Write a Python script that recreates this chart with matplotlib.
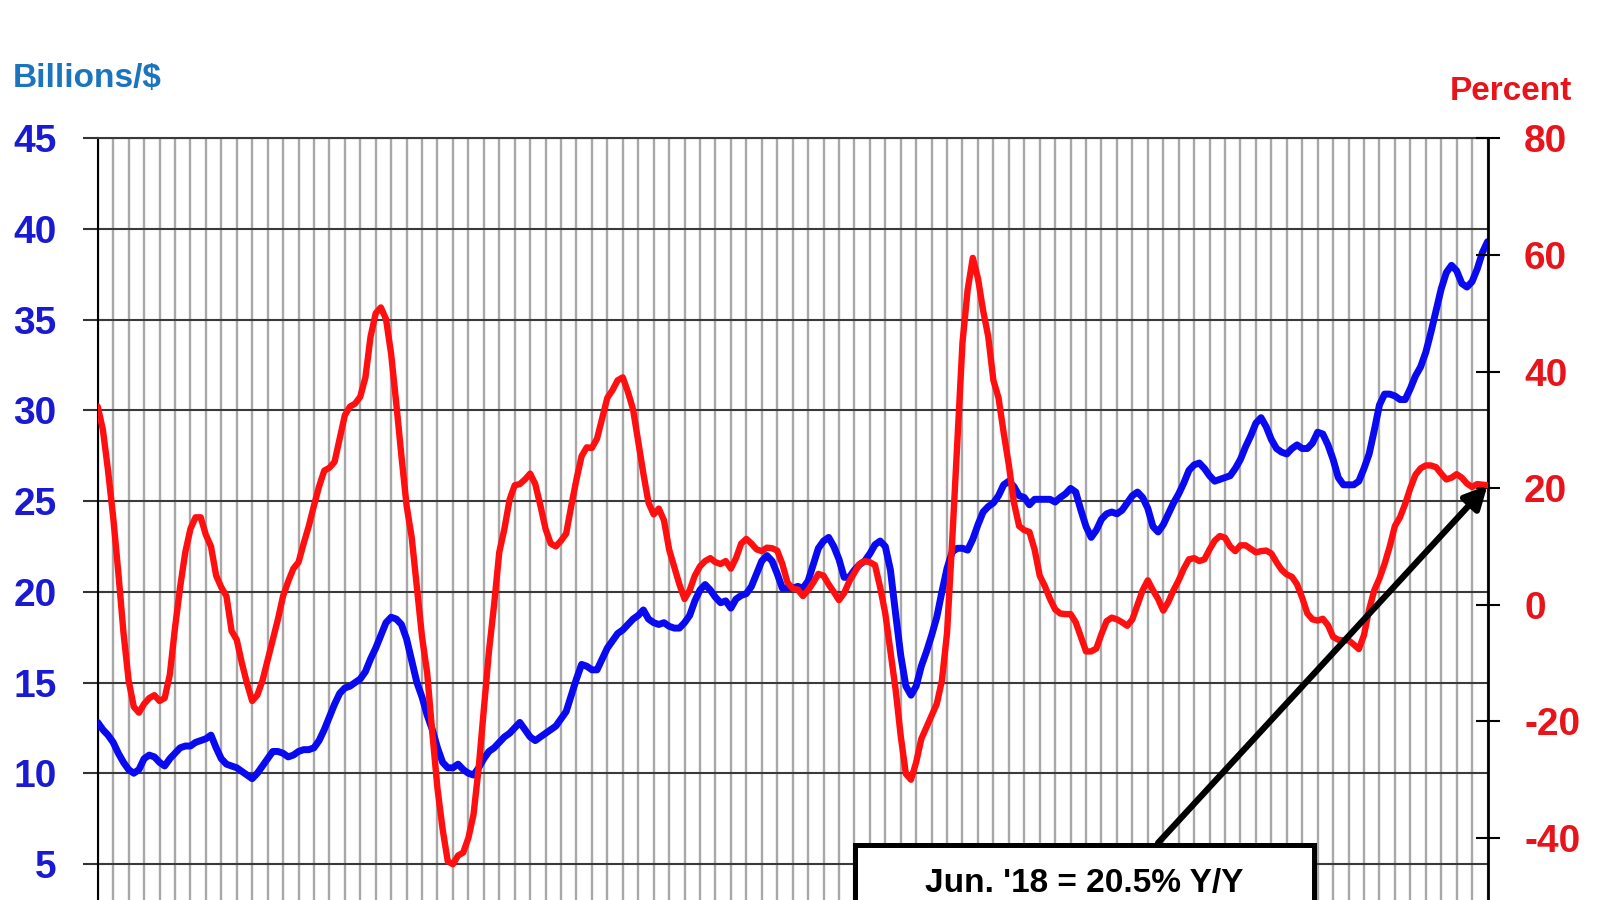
import numpy as np
import matplotlib
matplotlib.use("Agg")
import matplotlib.pyplot as plt
from matplotlib.patches import Rectangle

# ---------------- data (monthly, Dec 1995 .. Jun 2018) ----------------
start_month = "1995-12"
end_month = "2018-06"

billions = [
    12.8,
    12.4, 12.1, 11.7, 11.1, 10.6, 10.2, 10.0, 10.2, 10.8, 11.0, 10.9, 10.6,
    10.4, 10.8, 11.1, 11.4, 11.5, 11.5, 11.7, 11.8, 11.9, 12.1, 11.4, 10.8,
    10.5, 10.4, 10.3, 10.1, 9.9, 9.7, 10.0, 10.4, 10.8, 11.2, 11.2, 11.1,
    10.9, 11.0, 11.2, 11.3, 11.3, 11.4, 11.8, 12.4, 13.1, 13.8, 14.4, 14.7,
    14.8, 15.0, 15.2, 15.6, 16.3, 16.9, 17.6, 18.3, 18.6, 18.5, 18.2, 17.4,
    16.2, 15.0, 14.2, 13.2, 12.4, 11.4, 10.6, 10.3, 10.3, 10.5, 10.2, 10.0,
    9.9, 10.3, 10.8, 11.2, 11.4, 11.7, 12.0, 12.2, 12.5, 12.8, 12.4, 12.0,
    11.8, 12.0, 12.2, 12.4, 12.6, 13.0, 13.4, 14.3, 15.2, 16.0, 15.9, 15.7,
    15.7, 16.3, 16.9, 17.3, 17.7, 17.9, 18.2, 18.5, 18.7, 19.0, 18.5, 18.3,
    18.2, 18.3, 18.1, 18.0, 18.0, 18.3, 18.7, 19.5, 20.1, 20.4, 20.1, 19.7,
    19.4, 19.5, 19.1, 19.6, 19.8, 19.9, 20.3, 21.0, 21.7, 22.0, 21.7, 21.0,
    20.2, 20.2, 20.2, 20.3, 20.2, 20.6, 21.5, 22.4, 22.8, 23.0, 22.5, 21.8,
    20.8, 20.8, 21.2, 21.5, 21.7, 22.1, 22.6, 22.8, 22.5, 21.2, 18.8, 16.5,
    14.8, 14.3, 14.8, 15.9, 16.7, 17.6, 18.6, 20.0, 21.3, 22.2, 22.4, 22.4,
    22.3, 22.9, 23.7, 24.4, 24.7, 24.9, 25.3, 25.9, 26.1, 25.8, 25.3, 25.2,
    24.8, 25.1, 25.1, 25.1, 25.1, 24.95, 25.2, 25.4, 25.7, 25.5, 24.5, 23.6,
    23.0, 23.4, 24.0, 24.3, 24.4, 24.3, 24.5, 24.9, 25.3, 25.5, 25.2, 24.6,
    23.6, 23.3, 23.7, 24.3, 24.9, 25.4, 26.0, 26.7, 27.0, 27.1, 26.8, 26.4,
    26.1, 26.2, 26.3, 26.4, 26.8, 27.3, 28.0, 28.6, 29.3, 29.6, 29.1, 28.4,
    27.9, 27.7, 27.6, 27.9, 28.1, 27.9, 27.9, 28.2, 28.8, 28.7, 28.1, 27.3,
    26.3, 25.9, 25.9, 25.9, 26.1, 26.8, 27.6, 28.9, 30.3, 30.9, 30.9, 30.8,
    30.6, 30.6, 31.2, 31.9, 32.4, 33.2, 34.3, 35.5, 36.7, 37.6, 38.0, 37.7,
    37.0, 36.8, 37.1, 37.8, 38.7, 39.3,
]

percent_yy = [
    34.0,
    30.0, 23.0, 15.0, 5.5, -4.8, -13.0, -17.5, -18.5, -17.0, -16.0, -15.5, -16.5,
    -16.0, -12.0, -4.0, 3.0, 9.0, 13.0, 15.0, 15.0, 12.0, 10.0, 5.0, 3.0,
    1.5, -4.5, -6.0, -10.0, -13.5, -16.5, -15.5, -13.0, -9.5, -6.0, -2.5, 1.5,
    4.0, 6.2, 7.3, 10.5, 13.5, 17.0, 20.3, 23.0, 23.5, 24.5, 28.5, 32.5,
    34.0, 34.5, 35.7, 39.0, 46.0, 50.0, 51.0, 49.0, 43.0, 34.5, 25.5, 17.0,
    11.5, 3.0, -5.5, -11.7, -22.0, -31.5, -38.5, -44.0, -44.5, -43.0, -42.5, -40.0,
    -36.0, -28.0, -18.0, -8.0, 0.0, 9.0, 13.0, 18.0, 20.5, 20.7, 21.5, 22.5,
    20.7, 17.0, 13.0, 10.5, 10.0, 11.0, 12.2, 17.0, 21.5, 25.5, 27.0, 26.9,
    28.5, 32.0, 35.5, 36.8, 38.5, 39.0, 36.5, 33.5, 28.0, 22.5, 17.5, 15.5,
    16.5, 14.5, 9.5, 6.5, 3.5, 1.0, 2.5, 5.0, 6.6, 7.5, 8.0, 7.3,
    7.0, 7.5, 6.2, 8.0, 10.5, 11.3, 10.5, 9.5, 9.2, 9.8, 9.7, 9.3,
    7.0, 3.8, 2.8, 2.6, 1.5, 2.5, 3.8, 5.3, 5.0, 3.5, 2.2, 0.8,
    2.0, 4.0, 5.5, 7.0, 7.5, 7.3, 6.8, 3.0, -1.5, -8.0, -14.5, -22.5,
    -29.0, -30.0, -27.0, -23.0, -21.0, -19.0, -17.0, -13.0, -4.8, 11.0, 28.0, 45.0,
    54.0, 59.5, 56.0, 50.5, 46.0, 38.5, 35.5, 29.5, 24.0, 17.5, 13.5, 12.8,
    12.5, 9.5, 5.0, 3.2, 1.0, -0.8, -1.5, -1.6, -1.6, -3.0, -5.5, -8.0,
    -8.0, -7.5, -5.0, -2.8, -2.2, -2.5, -3.0, -3.6, -2.5, 0.0, 2.5, 4.2,
    2.5, 1.0, -1.0, 0.5, 2.5, 4.2, 6.2, 7.8, 8.0, 7.5, 7.8, 9.5,
    11.0, 11.8, 11.5, 10.0, 9.2, 10.2, 10.2, 9.6, 9.0, 9.2, 9.3, 8.8,
    7.3, 6.0, 5.2, 4.8, 3.5, 1.2, -1.5, -2.5, -2.7, -2.4, -3.5, -5.5,
    -6.0, -6.1, -6.1, -6.8, -7.6, -5.2, -0.8, 2.5, 4.5, 7.0, 10.0, 13.5,
    15.0, 17.3, 20.0, 22.3, 23.4, 23.9, 23.9, 23.6, 22.5, 21.5, 21.8, 22.4,
    21.8, 20.8, 20.2, 20.7, 20.6, 20.5,
]

# ticks visible inside the picture
left_ticks = [5, 10, 15, 20, 25, 30, 35, 40, 45]
right_ticks = [-40, -20, 0, 20, 40, 60, 80]
left_axis_title = "Billions/$"
right_axis_title = "Percent"
callout_text = "Jun. '18 = 20.5% Y/Y"
callout_value = 20.5

# ---------------- styling ----------------
BLUE_LINE = "#0a0af0"
RED_LINE = "#ff0f0f"
BLUE_TXT = "#1a1ad2"
STEEL_TXT = "#1b74bd"
RED_TXT = "#e8141b"

plt.rcParams["font.family"] = ["Liberation Sans", "DejaVu Sans"]
plt.rcParams["font.weight"] = "bold"
plt.rcParams["axes.unicode_minus"] = False

fig = plt.figure(figsize=(16, 9), dpi=100)
fig.patch.set_facecolor("white")

ax = fig.add_axes([0.0611, -0.0607, 0.8686, 0.907])
x = np.arange(len(billions))
n = len(billions)

ax.plot(x, billions, color=BLUE_LINE, lw=5.0, solid_joinstyle="round",
        solid_capstyle="round", zorder=3)
ax.set_xlim(0, n - 1)
ax.set_ylim(0, 45)
ax.set_yticks(left_ticks)
ax.set_xticks(np.arange(0, n, 3))
ax.tick_params(axis="x", length=0, labelbottom=False)
ax.tick_params(axis="y", direction="out", length=10.6, width=1.5,
               color="#333333", pad=18.9, labelsize=28, labelcolor=BLUE_TXT)
for lab in ax.get_yticklabels():
    lab.set_fontweight("bold")
ax.xaxis.grid(True, color="#a8a8a8", lw=1.7)
ax.yaxis.grid(True, color="#3a3a3a", lw=1.5)
ax.set_axisbelow(True)
for s in ("right", "bottom"):
    ax.spines[s].set_visible(False)
ax.spines["left"].set_color("black")
ax.spines["left"].set_linewidth(1.5)
ax.spines["top"].set_color("#3a3a3a")
ax.spines["top"].set_linewidth(1.5)

ax2 = ax.twinx()
ax2.plot(x, percent_yy, color=RED_LINE, lw=4.6, solid_joinstyle="round",
         solid_capstyle="round", zorder=3)
ax2.set_ylim(-60, 80)
ax2.set_yticks(right_ticks)
ax2.tick_params(axis="y", direction="inout", length=17.3, width=1.5,
                color="black", pad=17.7, labelsize=28, labelcolor=RED_TXT)
for lab in ax2.get_yticklabels():
    lab.set_fontweight("bold")
for s in ("left", "top", "bottom"):
    ax2.spines[s].set_visible(False)
ax2.spines["right"].set_color("black")
ax2.spines["right"].set_linewidth(2.0)

# axis titles
fig.text(13 / 1600, 1 - 87 / 900, left_axis_title, color=STEEL_TXT,
         fontsize=24, fontweight="bold", ha="left", va="baseline")
fig.text(1450 / 1600, 1 - 100 / 900, right_axis_title, color=RED_TXT,
         fontsize=24, fontweight="bold", ha="left", va="baseline")

# callout box
box = Rectangle((855 / 1600, -0.06), (1314 - 855) / 1600, (1 - 845 / 900) + 0.06,
                transform=fig.transFigure, facecolor="white", edgecolor="black",
                lw=3.6, zorder=10)
fig.patches.append(box)
fig.text(1084 / 1600, 1 - 892 / 900, callout_text, color="black", fontsize=24,
         fontweight="bold", ha="center", va="baseline", zorder=11)

ax2.annotate("", xy=(n - 1, callout_value), xycoords="data",
             xytext=(1158, 900 - 843), textcoords="figure pixels",
             arrowprops=dict(arrowstyle="-|>", lw=4.5, color="black",
                             mutation_scale=34, shrinkA=0, shrinkB=0),
             annotation_clip=False, zorder=6)

fig.savefig("out.png", dpi=100)
